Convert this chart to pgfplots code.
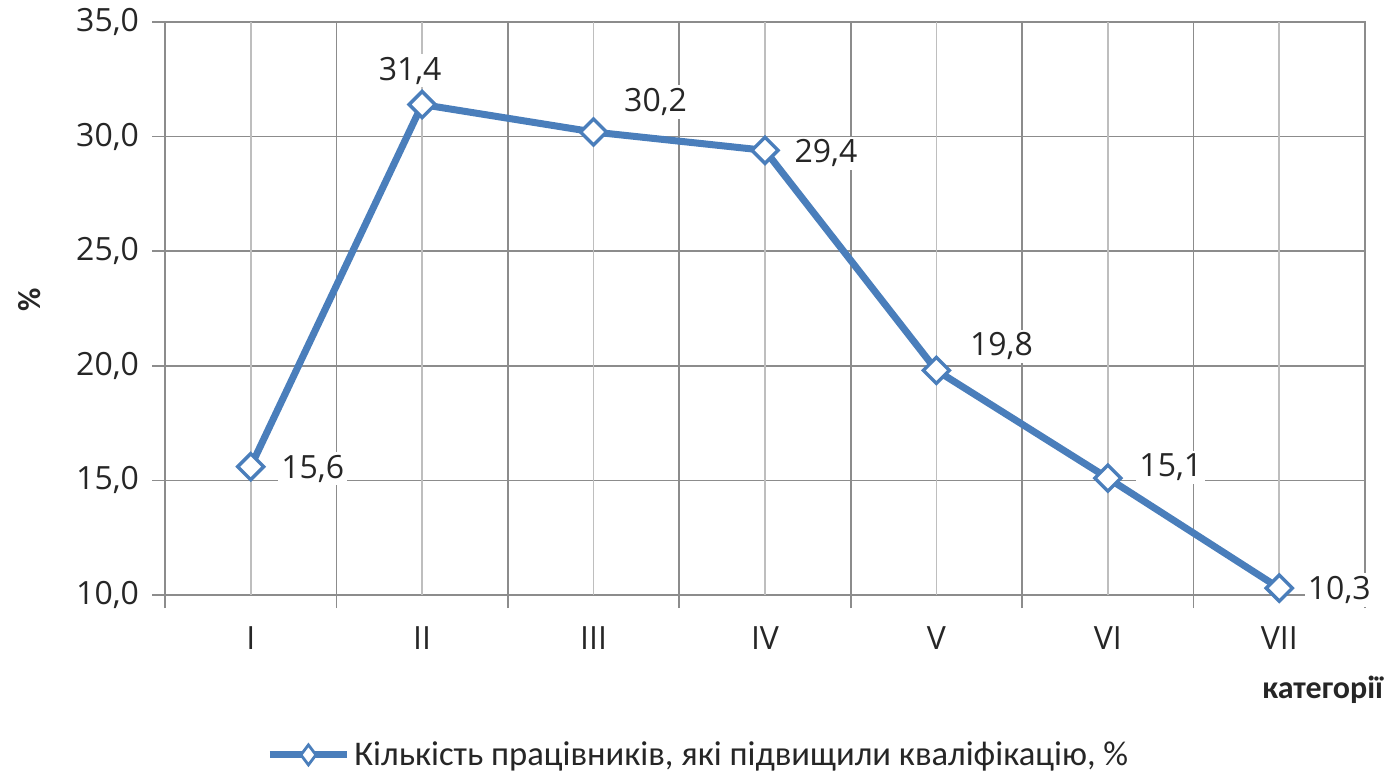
\documentclass[border=0pt]{standalone}
\usepackage{fontspec}
\setmainfont{Open Sans}
\newfontfamily\calfont{Carlito}
\usepackage{pgfplots}
\pgfplotsset{compat=1.18}
\definecolor{ln}{HTML}{4A7EBB}
\definecolor{gmaj}{HTML}{8C8C8C}
\definecolor{gmin}{HTML}{BEBEBE}
\definecolor{txt}{HTML}{262626}
\begin{document}
\begin{tikzpicture}
\useasboundingbox (0,0) rectangle (698.5pt,388pt);
\begin{axis}[
  at={(82.5pt,90.5pt)}, anchor=south west,
  scale only axis, width=600pt, height=286.5pt,
  xmin=0.5, xmax=7.5, ymin=10, ymax=35,
  clip=false,
  tick pos=left, tick align=outside, major tick length=6.5pt,
  xtick={0.5,1.5,...,7.5}, xticklabels={},
  extra x ticks={1,2,3,4,5,6,7},
  extra x tick labels={I,II,III,IV,V,VI,VII},
  extra x tick style={major grid style={gmin, line width=0.8pt}, tick style={draw=none}},
  ytick={10,15,...,35},
  xmajorgrids, ymajorgrids,
  major grid style={gmaj, line width=0.8pt},
  axis line style={gmaj, line width=0.8pt},
  tick style={gmaj, line width=0.8pt},
  every tick label/.append style={font=\fontsize{16}{19}\selectfont, text=txt},
  yticklabel style={xshift=-3pt},
  xticklabel style={yshift=-6pt},
  /pgf/number format/assume math mode=true,
  y tick label style={/pgf/number format/.cd, fixed, fixed zerofill, precision=1, use comma},
  legend style={at={(axis description cs:0.0842,-0.279)}, anchor=west, draw=none, fill=none, inner sep=0pt,
     font=\calfont\fontsize{17.3}{20}\selectfont, text=txt},
  legend image code/.code={
     \draw[ln, line width=3.5pt] (0pt,0pt) -- (38.5pt,0pt);
     \draw[ln, line width=1.4pt, fill=white] (19.25pt,5pt) -- (23pt,0pt) -- (19.25pt,-5pt) -- (15.5pt,0pt) -- cycle;
  },
]
\addplot[ln, line width=3.5pt, mark=square*, mark size=4.6pt,
  mark options={rotate=45, fill=white, draw=ln, line width=1.7pt}]
  coordinates {(1,15.6) (2,31.4) (3,30.2) (4,29.4) (5,19.8) (6,15.1) (7,10.3)};
\addlegendentry{Кількість працівників, які підвищили кваліфікацію, \%}
\begin{scope}[every node/.style={font=\fontsize{16}{19}\selectfont, text=txt, fill=white, inner sep=1.5pt}]
\node at (axis cs:1,15.6) [xshift=31pt, yshift=-1pt] {15,6};
\node at (axis cs:2,31.4) [xshift=-6pt, yshift=17pt] {31,4};
\node at (axis cs:3,30.2) [xshift=31pt, yshift=15pt] {30,2};
\node at (axis cs:4,29.4) [xshift=30.5pt, yshift=-1.5pt] {29,4};
\node at (axis cs:5,19.8) [xshift=32.5pt, yshift=12pt] {19,8};
\node at (axis cs:6,15.1) [xshift=31.5pt, yshift=5.5pt] {15,1};
\node at (axis cs:7,10.3) [xshift=30pt, yshift=-1pt] {10,3};
\end{scope}
\end{axis}
\node[rotate=90, font=\calfont\bfseries\fontsize{16}{19}\selectfont, text=txt] at (15pt,238pt) {\%};
\node[anchor=east, font=\calfont\bfseries\fontsize{16}{19}\selectfont, text=txt] at (695pt,43pt) {категорії};
\end{tikzpicture}
\end{document}
